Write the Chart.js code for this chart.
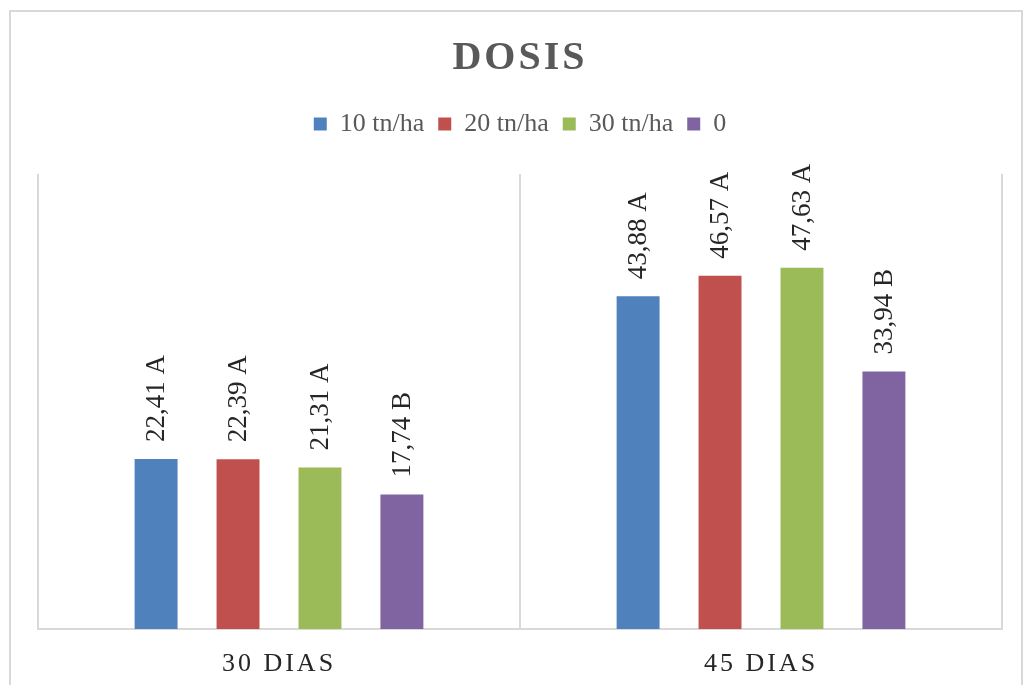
<!DOCTYPE html>
<html>
<head>
<meta charset="utf-8">
<script src="https://cdn.jsdelivr.net/npm/chart.js@4"></script>
<style>
    html, body { margin: 0; padding: 0; background: #fff; overflow: hidden; }
    #frame {
        position: absolute; left: 9px; top: 10px; width: 1010px; height: 700px;
        border: 2px solid #d9d9d9; border-bottom: none;
    }
    #wrap { position: absolute; left: 0; top: 0; width: 1023px; height: 685px; }
</style>
</head>
<body>
<div id="frame"></div>
<div id="wrap"><canvas id="dosisChart" width="1023" height="685"></canvas></div>
<script>
// Data
const categories = ['30 DIAS', '45 DIAS'];
const seriesNames = ['10 tn/ha', '20 tn/ha', '30 tn/ha', '0'];
const dose10 = [22.41, 43.88];
const dose20 = [22.39, 46.57];
const dose30 = [21.31, 47.63];
const dose0 = [17.74, 33.94];
const letters10 = ['A', 'A'];
const letters20 = ['A', 'A'];
const letters30 = ['A', 'A'];
const letters0 = ['B', 'B'];
const yTicks = [0, 60];

const colors = ['#4F81BD', '#C0504D', '#9BBB59', '#8064A2'];
const seriesValues = [dose10, dose20, dose30, dose0];
const seriesLetters = [letters10, letters20, letters30, letters0];
const FONT = "'Liberation Serif', 'DejaVu Serif', serif";

// letter spacing for title and category labels, extra room under the legend
const spacingPlugin = {
    id: 'spacing',
    beforeLayout(chart) {
        const lg = chart.legend;
        if (lg && !lg._padded) {
            const origFit = lg.fit.bind(lg);
            lg.fit = function () {
                origFit();
                this.height += 27;
            };
            lg._padded = true;
        }
    },
    beforeDraw(chart) {
        const ctx = chart.ctx;
        const t = chart.titleBlock;
        if (t && !t._spaced) {
            const orig = t.draw.bind(t);
            t.draw = function () {
                ctx.save();
                ctx.letterSpacing = '3px';
                orig();
                ctx.restore();
            };
            t._spaced = true;
        }
        const x = chart.scales.x;
        if (x && !x._spaced) {
            const origLabels = x.drawLabels.bind(x);
            x.drawLabels = function (area) {
                ctx.save();
                ctx.letterSpacing = '3px';
                origLabels(area);
                ctx.restore();
            };
            x._spaced = true;
        }
    }
};

// rotated value labels above the bars
const valueLabels = {
    id: 'valueLabels',
    afterDatasetsDraw(chart) {
        const ctx = chart.ctx;
        ctx.save();
        ctx.font = '27px ' + FONT;
        ctx.fillStyle = '#262626';
        ctx.textAlign = 'left';
        ctx.textBaseline = 'middle';
        chart.data.datasets.forEach((ds, i) => {
            chart.getDatasetMeta(i).data.forEach((bar, j) => {
                const txt = ds.data[j].toFixed(2).replace('.', ',') + ' ' + seriesLetters[i][j];
                ctx.save();
                ctx.translate(bar.x + 1, bar.y - 17);
                ctx.rotate(-Math.PI / 2);
                ctx.fillText(txt, 0, 0);
                ctx.restore();
            });
        });
        ctx.restore();
    }
};

const ctx = document.getElementById('dosisChart').getContext('2d');
new Chart(ctx, {
    type: 'bar',
    data: {
        labels: categories,
        datasets: seriesNames.map((name, i) => ({
            label: name,
            data: seriesValues[i],
            backgroundColor: colors[i],
            borderWidth: 0,
            categoryPercentage: 0.68,
            barPercentage: 0.524
        }))
    },
    options: {
        responsive: false,
        animation: false,
        layout: {
            padding: { left: 38, right: 21, top: 23, bottom: 0 }
        },
        plugins: {
            title: {
                display: true,
                text: 'DOSIS',
                color: '#595959',
                font: { family: FONT, size: 40, weight: 'bold' },
                padding: { top: 12, bottom: 14 }
            },
            legend: {
                position: 'top',
                labels: {
                    color: '#595959',
                    font: { family: FONT, size: 26 },
                    boxWidth: 13,
                    boxHeight: 13,
                    padding: 14
                }
            },
            tooltip: { enabled: false }
        },
        scales: {
            x: {
                grid: {
                    display: true,
                    offset: true,
                    color: '#d9d9d9',
                    lineWidth: 2,
                    drawTicks: false
                },
                border: { display: true, color: '#d9d9d9', width: 2 },
                ticks: {
                    color: '#262626',
                    font: { family: FONT, size: 26 },
                    padding: 20
                },
                afterFit(scale) { scale.height = 56; }
            },
            y: {
                display: false,
                min: yTicks[0],
                max: yTicks[1]
            }
        }
    },
    plugins: [spacingPlugin, valueLabels]
});
</script>
</body>
</html>
